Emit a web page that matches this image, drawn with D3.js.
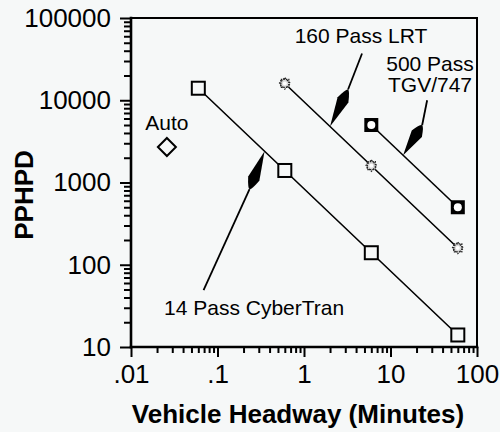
<!DOCTYPE html>
<html>
<head>
<meta charset="utf-8">
<script src="https://cdn.jsdelivr.net/npm/d3@7"></script>
<style>
  html, body { margin: 0; padding: 0; background: #f6f8f8; }
  svg { display: block; font-family: "Liberation Sans", Arial, Helvetica, sans-serif; }
</style>
</head>
<body>
<svg id="chart" width="500" height="432"></svg>
<script>
const xTickValues = [0.01, 0.1, 1, 10, 100];
const xTickLabels = [".01", ".1", "1", "10", "100"];
const yTickValues = [10, 100, 1000, 10000, 100000];
const yTickLabels = ["10", "100", "1000", "10000", "100000"];

const cyberHeadway = [0.06, 0.6, 6, 60];
const cyberPPHPD = [14000, 1400, 140, 14];
const lrtHeadway = [0.6, 6, 60];
const lrtPPHPD = [16000, 1600, 160];
const tgvHeadway = [6, 60];
const tgvPPHPD = [5000, 500];
const autoHeadway = [0.026];
const autoPPHPD = [2700];

const xTitle = "Vehicle Headway (Minutes)";
const yTitle = "PPHPD";

const annoNames = ["14 Pass CyberTran", "160 Pass LRT", "500 Pass|TGV/747"];
const annoHeadway = [0.35, 2.0, 14];
const annoPPHPD = [840 / 0.35, 9600 / 2.0, 30000 / 14];

const svg = d3.select("#chart");
const m = { left: 131, top: 18, right: 477, bottom: 347 };
const x = d3.scaleLog().domain([0.01, 100]).range([m.left, m.right]);
const y = d3.scaleLog().domain([10, 100000]).range([m.bottom, m.top]);

const minorX = [], minorY = [];
for (let d = 0.01; d < 100; d *= 10) for (let k = 2; k <= 9; k++) minorX.push(+(d * k).toPrecision(3));
for (let d = 10; d < 100000; d *= 10) for (let k = 2; k <= 9; k++) minorY.push(d * k);

const FONT = "'Liberation Sans', Arial, sans-serif";

const gy = svg.append("g").attr("transform", `translate(${m.left},0)`);
gy.append("g").call(d3.axisLeft(y).tickValues(minorY).tickSize(7).tickFormat(""));
gy.append("g").call(d3.axisLeft(y).tickValues(yTickValues).tickSize(11)
  .tickFormat((d, i) => yTickLabels[i]).tickPadding(9));
gy.selectAll(".domain").remove();
gy.selectAll(".tick line").attr("stroke-width", 2).attr("stroke", "#000");
gy.selectAll(".tick text").attr("font-size", 26).attr("fill", "#000").attr("font-family", FONT);

const gx = svg.append("g").attr("transform", `translate(0,${m.bottom})`);
gx.append("g").call(d3.axisBottom(x).tickValues(minorX).tickSize(6).tickFormat(""));
gx.append("g").call(d3.axisBottom(x).tickValues(xTickValues).tickSize(10)
  .tickFormat((d, i) => xTickLabels[i]).tickPadding(8));
gx.selectAll(".domain").remove();
gx.selectAll(".tick line").attr("stroke-width", 2).attr("stroke", "#000");
gx.selectAll(".tick text").attr("font-size", 26).attr("fill", "#000").attr("font-family", FONT);

svg.append("text").attr("x", 298).attr("y", 423).attr("text-anchor", "middle")
  .attr("font-size", 26).attr("font-weight", "bold").text(xTitle);
svg.append("text").attr("transform", "translate(33,195) rotate(-90)")
  .attr("text-anchor", "middle").attr("font-size", 26).attr("font-weight", "bold").text(yTitle);

const line = d3.line().x(d => x(d[0])).y(d => y(d[1]));
const series = [
  [cyberHeadway, cyberPPHPD],
  [lrtHeadway, lrtPPHPD],
  [tgvHeadway, tgvPPHPD]
];
series.forEach(([hs, vs]) => {
  svg.append("path").datum(hs.map((h, i) => [h, vs[i]]))
    .attr("d", line).attr("fill", "none").attr("stroke", "#000").attr("stroke-width", 1.6);
});

const bg = "#f6f8f8";
svg.selectAll(".cyber").data(cyberHeadway.map((h, i) => [h, cyberPPHPD[i]])).join("rect")
  .attr("x", d => x(d[0]) - 6.5).attr("y", d => y(d[1]) - 6.5)
  .attr("width", 13).attr("height", 13)
  .attr("fill", bg).attr("stroke", "#000").attr("stroke-width", 2);
const lrtG = svg.selectAll(".lrt").data(lrtHeadway.map((h, i) => [h, lrtPPHPD[i]])).join("g")
  .attr("transform", d => `translate(${x(d[0])},${y(d[1])})`);
lrtG.append("rect").attr("x", -4).attr("y", -4).attr("width", 8).attr("height", 8)
  .attr("fill", "#d8d8d8").attr("stroke", "#222").attr("stroke-width", 1.3).attr("stroke-dasharray", "1.5,1");
lrtG.append("rect").attr("x", -4).attr("y", -4).attr("width", 8).attr("height", 8)
  .attr("transform", "rotate(45)")
  .attr("fill", "none").attr("stroke", "#222").attr("stroke-width", 1.3).attr("stroke-dasharray", "1.5,1.5");
lrtG.append("circle").attr("r", 2).attr("fill", "#fff");
const tgvG = svg.selectAll(".tgv").data(tgvHeadway.map((h, i) => [h, tgvPPHPD[i]])).join("g")
  .attr("transform", d => `translate(${x(d[0])},${y(d[1])})`);
tgvG.append("rect").attr("x", -7).attr("y", -7).attr("width", 14).attr("height", 14).attr("fill", "#000");
tgvG.append("circle").attr("r", 4).attr("fill", "#fff");
svg.selectAll(".auto").data(autoHeadway.map((h, i) => [h, autoPPHPD[i]])).join("path")
  .attr("transform", d => `translate(${x(d[0])},${y(d[1])})`)
  .attr("d", "M0,-9L9,0L0,9L-9,0Z")
  .attr("fill", bg).attr("stroke", "#000").attr("stroke-width", 2);
svg.append("text").attr("x", x(autoHeadway[0])).attr("y", y(autoPPHPD[0]) - 17)
  .attr("text-anchor", "middle").attr("font-size", 21).text("Auto");

const annoBack = [[-15, 38], [18, -37], [19, -30]];
const annoLeader = [[-61, 139], [32, -73], [24, -55]];
const annoLabel = [[164, 315, "start"], [361, 43, "middle"], [430, 71, "middle"]];

annoNames.forEach((name, i) => {
  const tx = x(annoHeadway[i]), ty = y(annoPPHPD[i]);
  const bx = tx + annoBack[i][0], by = ty + annoBack[i][1];
  const lx = tx + annoLeader[i][0], ly = ty + annoLeader[i][1];
  const dx = bx - tx, dy = by - ty, L = Math.hypot(dx, dy);
  const ux = dx / L, uy = dy / L, nx = -uy, ny = ux;
  const w = 6, f = 0.72;
  const px = tx + ux * L * f, py = ty + uy * L * f;
  svg.append("path")
    .attr("d", `M${tx},${ty}L${px + nx * w},${py + ny * w}Q${bx + nx * 2},${by + ny * 2} ${bx},${by}Q${bx - nx * 2},${by - ny * 2} ${px - nx * w},${py - ny * w}Z`)
    .attr("fill", "#000");
  svg.append("line").attr("x1", bx).attr("y1", by).attr("x2", lx).attr("y2", ly)
    .attr("stroke", "#000").attr("stroke-width", 1.8);
  const parts = name.split("|");
  const t = svg.append("text").attr("x", annoLabel[i][0]).attr("y", annoLabel[i][1])
    .attr("text-anchor", annoLabel[i][2]).attr("font-size", 21);
  parts.forEach((p, j) => t.append("tspan").attr("x", annoLabel[i][0]).attr("dy", j === 0 ? 0 : 21).text(p));
});

// frame and axis lines
const frame = [
  [m.left, m.top, m.right, m.top, 2],
  [m.right, m.top, m.right, m.bottom, 2],
  [m.left, m.top, m.left, m.bottom, 2.6],
  [m.left, m.bottom, m.right, m.bottom, 2.6]
];
svg.selectAll(".frame").data(frame).join("line").attr("class", "frame")
  .attr("x1", d => d[0]).attr("y1", d => d[1]).attr("x2", d => d[2]).attr("y2", d => d[3])
  .attr("stroke", "#000").attr("stroke-width", d => d[4]).attr("stroke-linecap", "square");
</script>
</body>
</html>
